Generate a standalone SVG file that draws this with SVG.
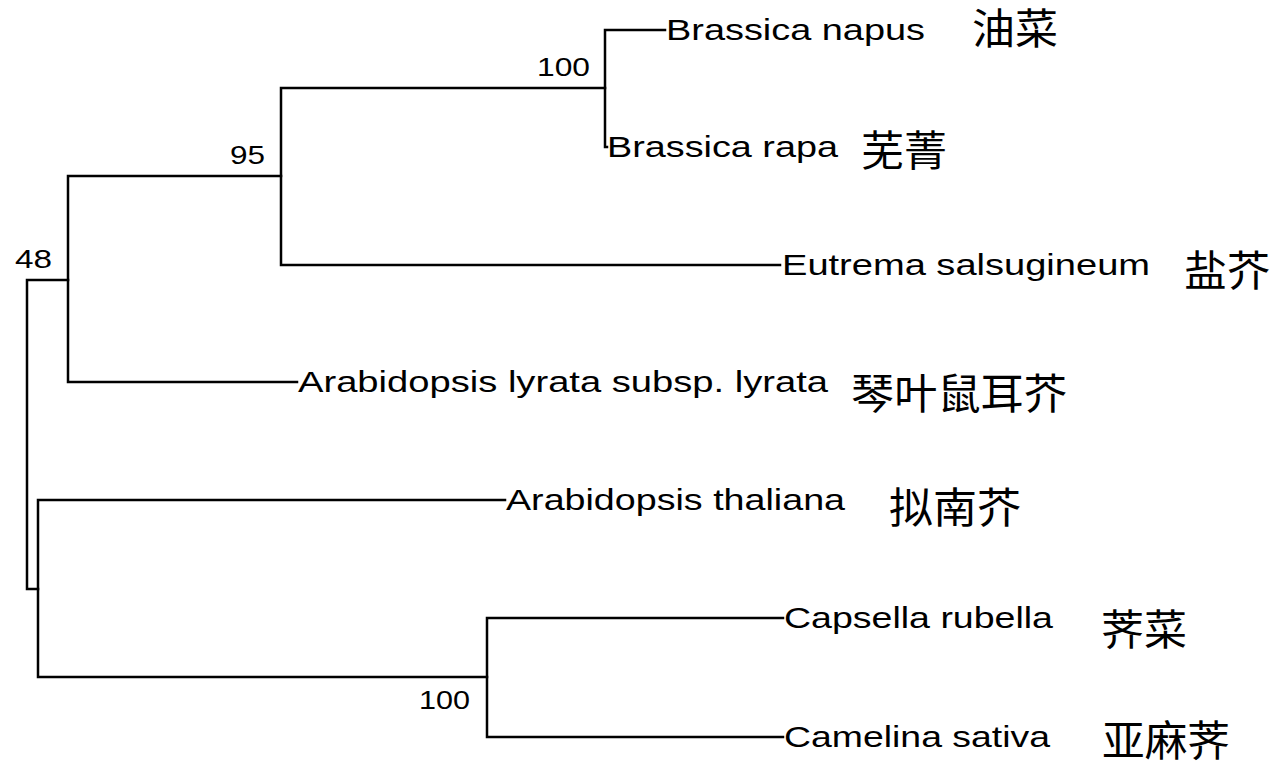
<svg xmlns="http://www.w3.org/2000/svg" width="1276" height="764" viewBox="0 0 1276 764">
<style>
.br{fill:none;stroke:#000;stroke-width:2.5;stroke-linecap:square}
.lb{font-family:"Liberation Sans",Arial,sans-serif;font-size:29px;fill:#000}
.cn{font-family:"Noto Sans CJK SC","Noto Sans",sans-serif;font-size:42px;fill:#000}
.bs{font-family:"Liberation Sans",Arial,sans-serif;font-size:26px;fill:#000}
</style>
<rect width="1276" height="764" fill="#fff"/>
<g id="connectors">
<path class="br" d="M27,280 V589 M27,280 H68 M27,589 H38"/>
<path class="br" d="M68,176 V382 M68,176 H281 M68,382 H297"/>
<path class="br" d="M281,88 V265 M281,88 H605 M281,265 H780"/>
<path class="br" d="M605,30 V147 M605,30 H665 M605,147 H607"/>
<path class="br" d="M38,500 V677 M38,500 H505 M38,677 H487"/>
<path class="br" d="M487,618 V737 M487,618 H783 M487,737 H783"/>
</g>
<g id="support">
<text class="bs" x="537" y="76" textLength="53" lengthAdjust="spacingAndGlyphs">100</text>
<text class="bs" x="230" y="164" textLength="35" lengthAdjust="spacingAndGlyphs">95</text>
<text class="bs" x="15" y="268" textLength="37" lengthAdjust="spacingAndGlyphs">48</text>
<text class="bs" x="419" y="709" textLength="51" lengthAdjust="spacingAndGlyphs">100</text>
</g>
<g id="node-brassica-napus">
<text class="lb" x="666" y="40" textLength="259" lengthAdjust="spacingAndGlyphs">Brassica napus</text>
<text class="cn" x="972" y="44" textLength="86" lengthAdjust="spacingAndGlyphs">油菜</text>
</g>
<g id="node-brassica-rapa">
<text class="lb" x="607" y="157" textLength="231" lengthAdjust="spacingAndGlyphs">Brassica rapa</text>
<text class="cn" x="861" y="166" textLength="86" lengthAdjust="spacingAndGlyphs">芜菁</text>
</g>
<g id="node-eutrema">
<text class="lb" x="782" y="275" textLength="368" lengthAdjust="spacingAndGlyphs">Eutrema salsugineum</text>
<text class="cn" x="1184" y="286" textLength="86" lengthAdjust="spacingAndGlyphs">盐芥</text>
</g>
<g id="node-arabidopsis-lyrata">
<text class="lb" x="298" y="392" textLength="530" lengthAdjust="spacingAndGlyphs">Arabidopsis lyrata subsp. lyrata</text>
<text class="cn" x="851" y="409" textLength="216" lengthAdjust="spacingAndGlyphs">琴叶鼠耳芥</text>
</g>
<g id="node-arabidopsis-thaliana">
<text class="lb" x="506" y="510" textLength="339" lengthAdjust="spacingAndGlyphs">Arabidopsis thaliana</text>
<text class="cn" x="889" y="523" textLength="132" lengthAdjust="spacingAndGlyphs">拟南芥</text>
</g>
<g id="node-capsella">
<text class="lb" x="784" y="628" textLength="269" lengthAdjust="spacingAndGlyphs">Capsella rubella</text>
<text class="cn" x="1101" y="645" textLength="86" lengthAdjust="spacingAndGlyphs">荠菜</text>
</g>
<g id="node-camelina">
<text class="lb" x="784" y="747" textLength="266" lengthAdjust="spacingAndGlyphs">Camelina sativa</text>
<text class="cn" x="1102" y="756" textLength="128" lengthAdjust="spacingAndGlyphs">亚麻荠</text>
</g>
</svg>
